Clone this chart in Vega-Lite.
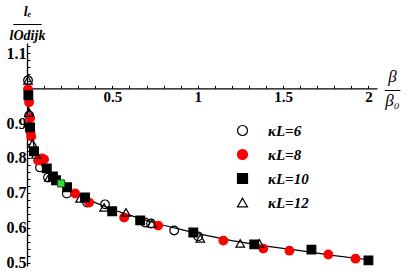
{
  "$schema": "https://vega.github.io/schema/vega-lite/v6.json",
  "width": 350,
  "height": 223,
  "autosize": {"type": "none"},
  "padding": {"left": 27, "top": 43, "right": 34, "bottom": 11},
  "background": "white",
  "config": {"view": {"stroke": null}},
  "encoding": {
    "x": {
      "field": "x", "type": "quantitative",
      "scale": {"domain": [0, 2.05], "nice": false, "zero": false},
      "axis": {
        "orient": "bottom", "offset": -177.7, "grid": false,
        "values": [0.1,0.2,0.3,0.4,0.5,0.6,0.7,0.8,0.9,1.0,1.1,1.2,1.3,1.4,1.5,1.6,1.7,1.8,1.9,2.0],
        "tickSize": -3, "tickColor": "black", "tickWidth": 1,
        "domainColor": "black", "domainWidth": 1.3,
        "labelExpr": "(abs(datum.value*2 - round(datum.value*2)) < 0.001 && datum.value > 0.01) ? format(datum.value, '~g') : ''",
        "labelFont": "Liberation Serif", "labelFontWeight": "bold", "labelFontSize": 15,
        "labelColor": "black", "labelPadding": 4, "labelFlush": false, "labelOverlap": false,
        "title": ["β", "—", "β₀"],
        "titleFont": "Liberation Serif", "titleFontStyle": "italic", "titleFontWeight": "normal",
        "titleFontSize": 17, "titleColor": "black", "titleLineHeight": 12,
        "titleX": 365, "titleY": -12, "titleAlign": "center", "titleBaseline": "middle", "titleAngle": 0
      }
    },
    "y": {
      "field": "y", "type": "quantitative",
      "scale": {"domain": [0.49, 1.13], "nice": false, "zero": false},
      "axis": {
        "orient": "left", "grid": false,
        "values": [0.5,0.52,0.54,0.56,0.58,0.6,0.62,0.64,0.66,0.68,0.7,0.72,0.74,0.76,0.78,0.8,0.82,0.84,0.86,0.88,0.9,0.92,0.94,0.96,0.98,1.0,1.02,1.04,1.06,1.08,1.1,1.12],
        "tickSize": -3, "tickColor": "black", "tickWidth": 1,
        "domainColor": "black", "domainWidth": 1.3,
        "labelExpr": "(abs(datum.value*10 - round(datum.value*10)) < 0.001 && abs(datum.value - 1) > 0.001) ? format(datum.value, '.1f') : ''",
        "labelFont": "Liberation Serif", "labelFontWeight": "bold", "labelFontSize": 16,
        "labelColor": "black", "labelPadding": 4, "labelFlush": false, "labelOverlap": false,
        "title": ["lₑ", "——", "lOdijk"],
        "titleFont": "Liberation Serif", "titleFontStyle": "italic", "titleFontWeight": "bold",
        "titleFontSize": 14, "titleColor": "black", "titleLineHeight": 12,
        "titleX": 0, "titleY": -32, "titleAlign": "center", "titleBaseline": "middle", "titleAngle": 0
      }
    }
  },
  "layer": [
    {
      "data": {"values": [
        {"x": 0.001, "y": 1.0}, {"x": 0.005, "y": 0.975}, {"x": 0.01, "y": 0.945}, {"x": 0.02, "y": 0.895},
        {"x": 0.04, "y": 0.835}, {"x": 0.07, "y": 0.79}, {"x": 0.1, "y": 0.768}, {"x": 0.15, "y": 0.742},
        {"x": 0.2, "y": 0.724}, {"x": 0.25, "y": 0.708}, {"x": 0.3, "y": 0.695}, {"x": 0.4, "y": 0.672},
        {"x": 0.5, "y": 0.652}, {"x": 0.6, "y": 0.636}, {"x": 0.7, "y": 0.621}, {"x": 0.8, "y": 0.607},
        {"x": 0.9, "y": 0.595}, {"x": 1.0, "y": 0.583}, {"x": 1.2, "y": 0.563}, {"x": 1.4, "y": 0.547},
        {"x": 1.6, "y": 0.534}, {"x": 1.8, "y": 0.52}, {"x": 2.0, "y": 0.508}
      ]},
      "mark": {"type": "line", "color": "black", "strokeWidth": 1.2}
    },
    {
      "data": {"values": [
        {"x": 0.006, "y": 1.023, "series": "κL=6"},
        {"x": 0.013, "y": 0.922, "series": "κL=6"},
        {"x": 0.076, "y": 0.773, "series": "κL=6"},
        {"x": 0.123, "y": 0.744, "series": "κL=6"},
        {"x": 0.233, "y": 0.698, "series": "κL=6"},
        {"x": 0.352, "y": 0.672, "series": "κL=6"},
        {"x": 0.457, "y": 0.667, "series": "κL=6"},
        {"x": 0.692, "y": 0.615, "series": "κL=6"},
        {"x": 0.727, "y": 0.612, "series": "κL=6"},
        {"x": 0.862, "y": 0.592, "series": "κL=6"},
        {"x": 1.003, "y": 0.575, "series": "κL=6"},
        {"x": 0.006, "y": 0.997, "series": "κL=8"},
        {"x": 0.012, "y": 0.96, "series": "κL=8"},
        {"x": 0.018, "y": 0.914, "series": "κL=8"},
        {"x": 0.02, "y": 0.875, "series": "κL=8"},
        {"x": 0.025, "y": 0.862, "series": "κL=8"},
        {"x": 0.065, "y": 0.793, "series": "κL=8"},
        {"x": 0.086, "y": 0.799, "series": "κL=8"},
        {"x": 0.1, "y": 0.796, "series": "κL=8"},
        {"x": 0.282, "y": 0.698, "series": "κL=8"},
        {"x": 0.364, "y": 0.672, "series": "κL=8"},
        {"x": 0.569, "y": 0.629, "series": "κL=8"},
        {"x": 0.768, "y": 0.606, "series": "κL=8"},
        {"x": 1.15, "y": 0.563, "series": "κL=8"},
        {"x": 1.384, "y": 0.54, "series": "κL=8"},
        {"x": 1.537, "y": 0.534, "series": "κL=8"},
        {"x": 1.765, "y": 0.523, "series": "κL=8"},
        {"x": 1.924, "y": 0.511, "series": "κL=8"},
        {"x": 0.008, "y": 0.98, "series": "κL=10"},
        {"x": 0.018, "y": 0.888, "series": "κL=10"},
        {"x": 0.041, "y": 0.819, "series": "κL=10"},
        {"x": 0.116, "y": 0.77, "series": "κL=10"},
        {"x": 0.152, "y": 0.747, "series": "κL=10"},
        {"x": 0.17, "y": 0.736, "series": "κL=10"},
        {"x": 0.235, "y": 0.716, "series": "κL=10"},
        {"x": 0.34, "y": 0.687, "series": "κL=10"},
        {"x": 0.499, "y": 0.647, "series": "κL=10"},
        {"x": 0.663, "y": 0.621, "series": "κL=10"},
        {"x": 0.974, "y": 0.586, "series": "κL=10"},
        {"x": 1.331, "y": 0.552, "series": "κL=10"},
        {"x": 1.666, "y": 0.537, "series": "κL=10"},
        {"x": 2.0, "y": 0.506, "series": "κL=10"},
        {"x": 0.006, "y": 1.023, "series": "κL=12"},
        {"x": 0.012, "y": 0.93, "series": "κL=12"},
        {"x": 0.033, "y": 0.842, "series": "κL=12"},
        {"x": 0.053, "y": 0.81, "series": "κL=12"},
        {"x": 0.129, "y": 0.744, "series": "κL=12"},
        {"x": 0.311, "y": 0.684, "series": "κL=12"},
        {"x": 0.452, "y": 0.658, "series": "κL=12"},
        {"x": 0.58, "y": 0.644, "series": "κL=12"},
        {"x": 0.731, "y": 0.612, "series": "κL=12"},
        {"x": 1.015, "y": 0.569, "series": "κL=12"},
        {"x": 1.249, "y": 0.555, "series": "κL=12"},
        {"x": 1.361, "y": 0.555, "series": "κL=12"}
      ]},
      "mark": {"type": "point", "filled": true, "strokeWidth": 1.2, "size": 75, "opacity": 1},
      "encoding": {
        "shape": {
          "field": "series", "type": "nominal",
          "scale": {"domain": ["κL=6", "κL=8", "κL=10", "κL=12"], "range": ["circle", "circle", "square", "triangle-up"]},
          "legend": {
            "title": null, "orient": "none", "legendX": 208, "legendY": 80,
            "symbolSize": 100, "symbolStrokeWidth": 1.2,
            "labelFont": "Liberation Serif", "labelFontStyle": "italic", "labelFontWeight": "bold",
            "labelFontSize": 15, "labelColor": "black", "rowPadding": 8, "labelOffset": 18
          }
        },
        "fill": {
          "field": "series", "type": "nominal",
          "scale": {"domain": ["κL=6", "κL=8", "κL=10", "κL=12"], "range": ["transparent", "#ff0000", "black", "transparent"]}
        },
        "stroke": {
          "field": "series", "type": "nominal",
          "scale": {"domain": ["κL=6", "κL=8", "κL=10", "κL=12"], "range": ["black", "#ff0000", "black", "black"]}
        }
      }
    },
    {
      "data": {"values": [{"x": 0.2, "y": 0.727}]},
      "mark": {"type": "point", "shape": "square", "filled": true, "size": 50, "fill": "#33dd33", "stroke": "#115511", "strokeWidth": 1, "opacity": 1}
    }
  ]
}
